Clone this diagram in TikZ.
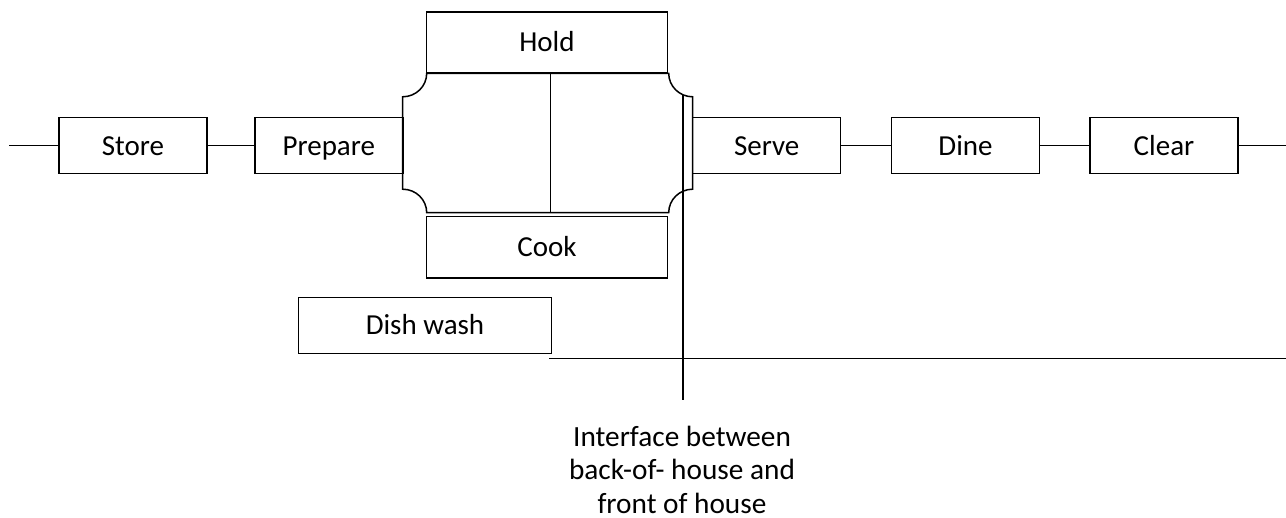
\documentclass[tikz,border=0pt]{standalone}
\usepackage{fontspec}
\setmainfont{Carlito}
\begin{document}
\begin{tikzpicture}[x=1pt,y=-1pt,
  box/.style={draw, line width=1.5pt, minimum width=148pt, minimum height=56pt,
    inner sep=0pt, text height=18.7pt, text depth=0pt,
    font=\fontsize{29}{34}\selectfont},
  conn/.style={line width=1.5pt},
  label/.style={inner sep=0pt, align=center, font=\fontsize{29.3}{33.3}\selectfont}]
\useasboundingbox (0,0) rectangle (1286,518);
% process boxes
\node[box] (store)   at (133,145.7)   {Store};
\node[box] (prepare) at (328.8,145.7) {Prepare};
\node[box] (serve)   at (766.7,145.7) {Serve};
\node[box] (dine)    at (965.5,145.7) {Dine};
\node[box] (clear)   at (1164,145.7)  {Clear};
\node[box, minimum width=240.6pt, minimum height=60.7pt] (hold) at (547,42.3) {Hold};
\node[box, minimum width=240.6pt, minimum height=61.3pt] (cook) at (547,247.3) {Cook};
\node[box, minimum width=253.4pt] (dish) at (425,325.3) {Dish wash};
% central plaque
\draw[conn] (426.7,73.3) -- (668.7,73.3)
  .. controls (668.7,86.3) and (679.45,96.8) .. (692.7,96.8)
  -- (692.7,189.2)
  .. controls (679.45,189.2) and (668.7,199.7) .. (668.7,212.7)
  -- (426.7,212.7)
  .. controls (426.7,199.7) and (415.95,189.2) .. (402.7,189.2)
  -- (402.7,96.8)
  .. controls (415.95,96.8) and (426.7,86.3) .. (426.7,73.3) -- cycle;
\coordinate (divtop) at (550.7,73.3);
\coordinate (divbot) at (550.7,212.7);
\draw[conn] (divtop) -- (divbot);
% connectors
\coordinate (lstart) at (9.3,145.7);
\coordinate (rend) at (1286,145.7);
\draw[conn] (lstart) -- (store.west);
\draw[conn] (store.east) -- (prepare.west);
\draw[conn] (serve.east) -- (dine.west);
\draw[conn] (dine.east) -- (clear.west);
\draw[conn] (clear.east) -- (rend);
% interface lines
\coordinate (itop) at (683,95.4);
\coordinate (ibot) at (683,400);
\draw[conn] (itop) -- (ibot);
\coordinate (hstart) at (549.3,358.3);
\coordinate (hend) at (1286,358.3);
\draw[conn] (hstart) -- (hend);
\node[label, anchor=north] (iface) at (682,426) {Interface between\\back-of- house and\\front of house};
\end{tikzpicture}
\end{document}
